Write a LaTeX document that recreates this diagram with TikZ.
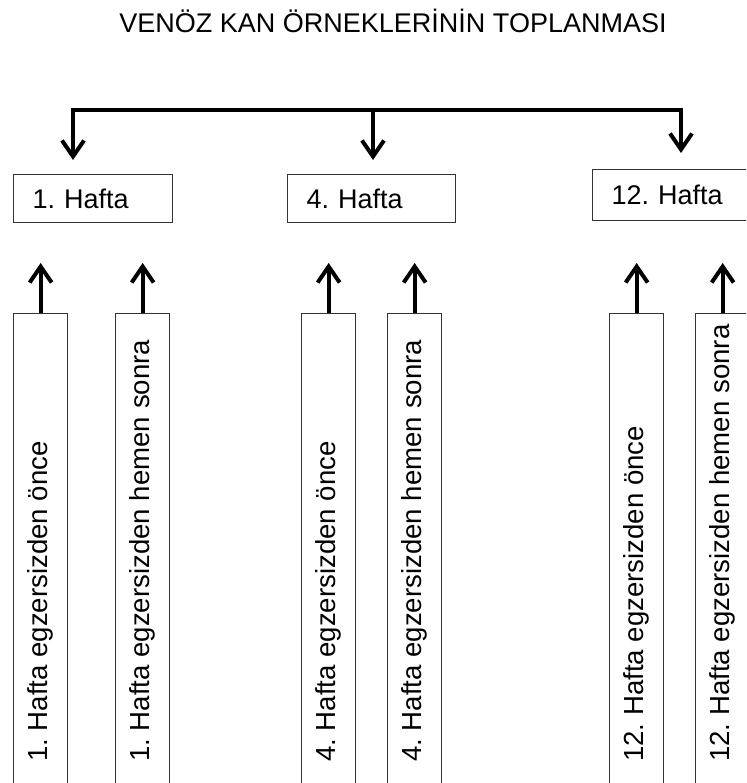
\documentclass[tikz,border=0pt]{standalone}
\usepackage{fontspec}
\setmainfont{Liberation Sans}
\usetikzlibrary{arrows.meta}
\frenchspacing
\tikzset{
  txt/.style={font=\fontsize{27}{31}\selectfont, text=black},
  lblbox/.style={draw=black!80, line width=1.3pt, txt, anchor=north west,
    inner xsep=19pt, inner ysep=0pt, text height=19.3pt, text depth=0pt,
    align=left},
  tallbox/.style={draw=black!80, line width=1.3pt, anchor=north west,
    minimum width=54pt, minimum height=490pt, inner sep=0pt},
  talltxt/.style={font=\fontsize{27.6}{31}\selectfont, text=black, rotate=90, anchor=west, inner sep=0pt,
    text height=19.7pt, text depth=0pt},
  barb/.tip={Straight Barb[length=16pt,width=22pt,line width=4pt]},
  arr/.style={line width=3.8pt, -barb, line join=miter},
  toparr/.style={line width=3.4pt, barb-barb, line join=miter},
}
\begin{document}
\begin{tikzpicture}[x=1pt,y=-1pt]
\useasboundingbox (0,0) rectangle (746,783);
\clip (0,0) rectangle (746,783);
\fill[white] (0,0) rectangle (746,783);

\node[txt, anchor=base] (title) at (393,33) {VENÖZ KAN ÖRNEKLERİNİN TOPLANMASI};

% week boxes
\node[lblbox, minimum height=48pt, text width=121pt] (w1) at (13,174) {1. Hafta};
\node[lblbox, minimum height=48pt, text width=130pt] (w4) at (287,174) {4. Hafta};
\node[lblbox, minimum height=51pt, text width=122pt] (w12) at (592,169) {12. Hafta};

% top distribution
\coordinate (j1) at (73,110);
\coordinate (j4) at (373,110);
\coordinate (j12) at (681,110);
\coordinate (d1) at (73,160);
\coordinate (d4) at (373,160);
\coordinate (d12) at (681,153);
\draw[toparr] (d1) -- (j1) -- (j12) -- (d12);
\draw[arr] (j4) -- (d4);

% tall boxes
\node[tallbox] (a1) at (13,313) {};
\node[tallbox] (b1) at (115,313) {};
\node[tallbox] (a4) at (301,313) {};
\node[tallbox] (b4) at (387,313) {};
\node[tallbox] (a12) at (609,313) {};
\node[tallbox] (b12) at (695,313) {};

\node[talltxt] (ta1) at (37.5,762) {1. Hafta egzersizden önce};
\node[talltxt] (tb1) at (139.5,762) {1. Hafta egzersizden hemen sonra};
\node[talltxt] (ta4) at (325.5,762) {4. Hafta egzersizden önce};
\node[talltxt] (tb4) at (411.5,762) {4. Hafta egzersizden hemen sonra};
\node[talltxt] (ta12) at (633.5,762) {12. Hafta egzersizden önce};
\node[talltxt] (tb12) at (719.5,762) {12. Hafta egzersizden hemen sonra};

% up arrows
\foreach \n in {a1,b1,a4,b4,a12,b12}{
  \coordinate (u\n) at ([yshift=50pt]\n.north);
  \draw[arr] (\n.north) -- (u\n);
}
\end{tikzpicture}
\end{document}
